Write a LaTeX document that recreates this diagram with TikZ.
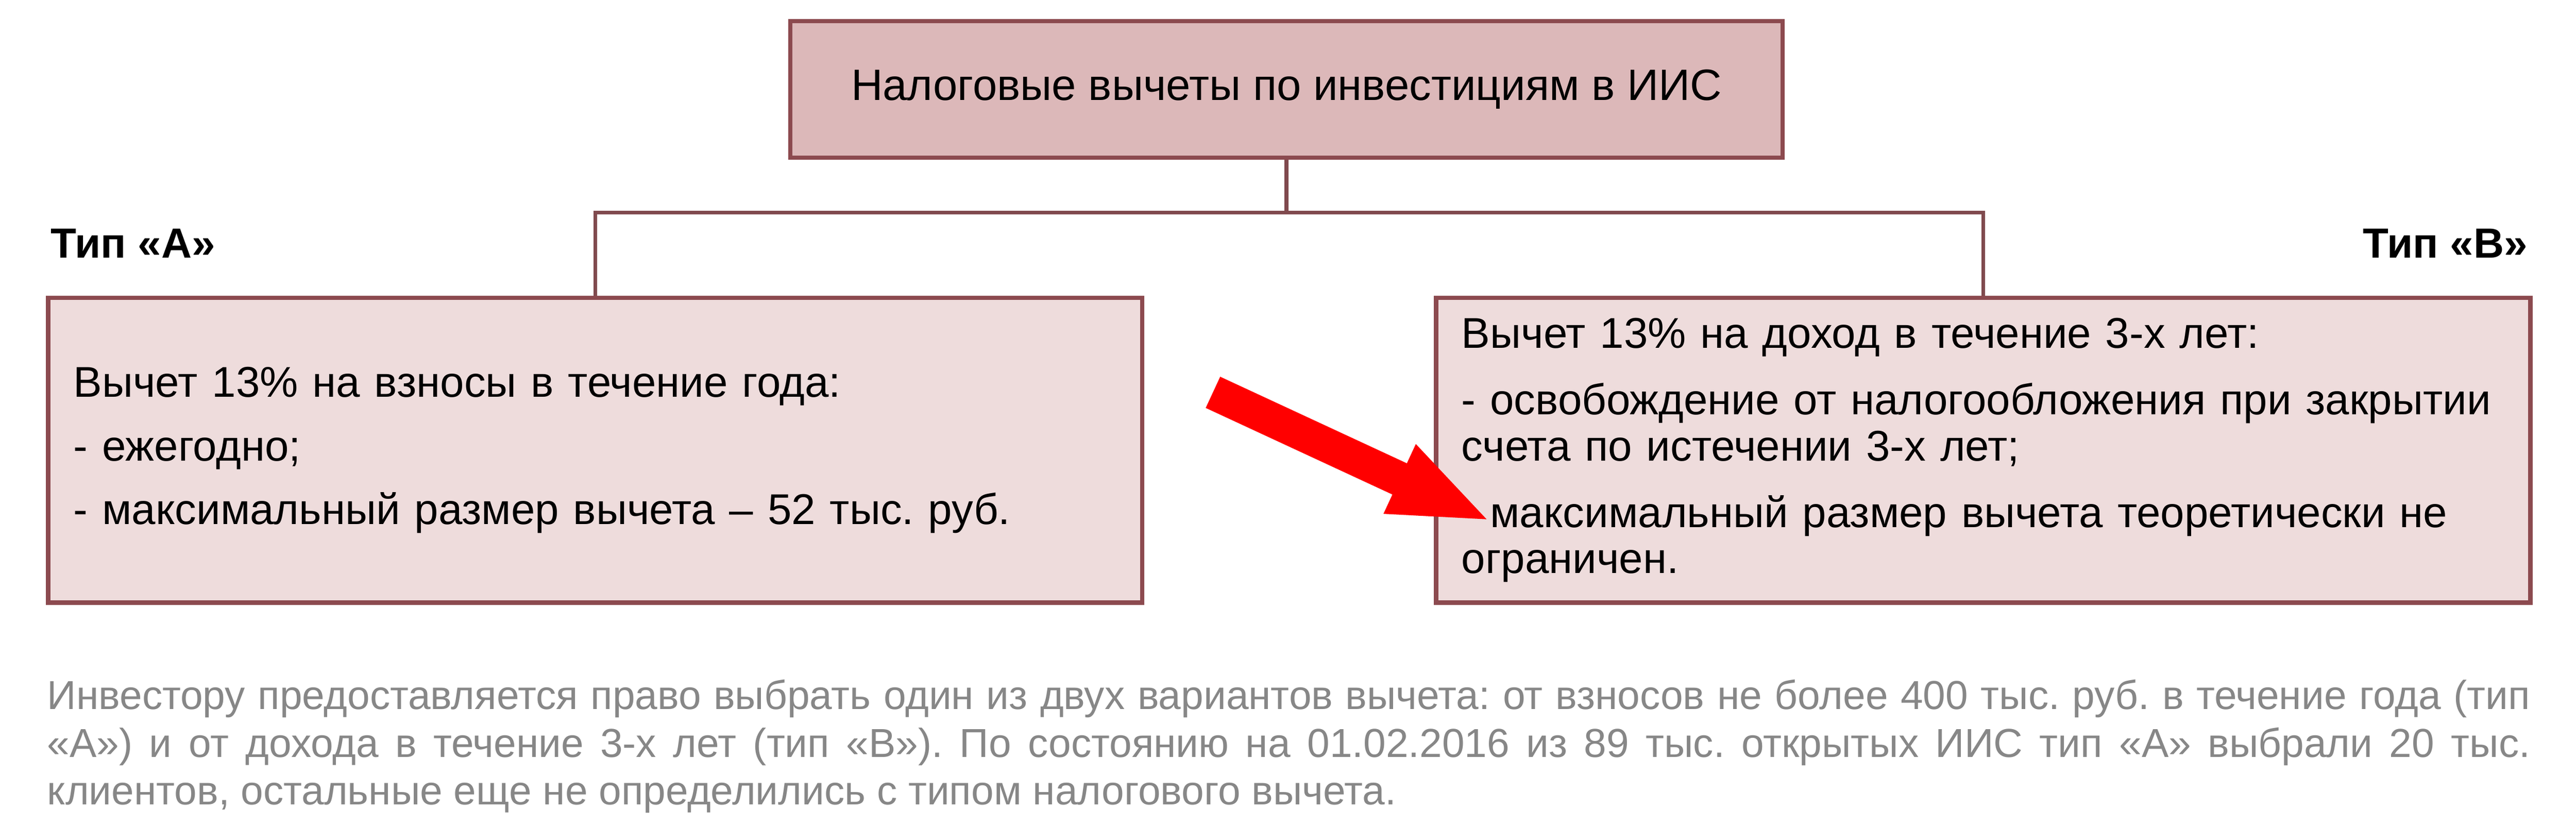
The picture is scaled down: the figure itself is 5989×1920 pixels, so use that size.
\documentclass[tikz,border=0pt]{standalone}
\usepackage{fontspec}
\setmainfont{Liberation Sans}
\usetikzlibrary{arrows.meta}
\definecolor{rim}{HTML}{8C4A4F}
\definecolor{wire}{HTML}{804A4E}
\definecolor{headfill}{HTML}{DCB8B9}
\definecolor{cardfill}{HTML}{EEDCDC}
\definecolor{notegray}{HTML}{878787}
\definecolor{pointred}{HTML}{FF0000}
\hyphenpenalty=10000
\exhyphenpenalty=10000
\frenchspacing

\begin{document}
\begin{tikzpicture}[x=0.1pt,y=-0.1pt,
	headbox/.style={draw=rim,line width=1pt,fill=headfill,minimum width=230.7pt,minimum height=31.7pt,inner sep=0pt,font=\fontsize{10.2}{12.2}\selectfont},
	card/.style={draw=rim,line width=1pt,fill=cardfill,minimum width=254.4pt,minimum height=70.9pt,inner xsep=5.9pt,inner ysep=0pt,text width=242.6pt,align=left,anchor=north west,font=\fontsize{10}{10.7}\selectfont},
	typelabel/.style={inner sep=0pt,font=\bfseries\fontsize{9.8}{11.8}\selectfont},
	link/.style={draw=wire,line width=0.9pt},
	pointer/.style={draw=pointred,line width=8pt,-{Triangle[length=23.7pt,width=15.8pt]}},
	note/.style={inner sep=0pt,anchor=north west,text width=577.3pt,align=justify,text=notegray,font=\fontsize{9.4}{11.1}\selectfont}]
		\useasboundingbox(0,0)rectangle(5989,1920);
		% boxes
		\node[headbox](deductions)at(2991,208){Налоговые вычеты по инвестициям в ИИС};
		\node[card](typeA)at(107,687){Вычет 13\% на взносы в течение года:\\[4.1pt]
			- ежегодно;\\[4.1pt]
			- максимальный размер вычета – 52 тыс. руб.};
		\node[card](typeB)at(3334,687){Вычет 13\% на доход в течение 3-х лет:\\[4.8pt]
			- освобождение от налогообложения при закрытии\\
			счета по истечении 3-х лет;\\[4.8pt]
			- максимальный размер вычета теоретически не\\
			ограничен.};
		\node[typelabel,anchor=base west](labelA)at(116,600){Тип «А»};
		\node[typelabel,anchor=base east](labelB)at(5878,600){Тип «В»};
		% connectors
		\coordinate(bus)at(2991,494);
		\draw[link](deductions.south)--(bus);
		\draw[link](typeA.north)|-(bus)-|(typeB.north);
		% red arrow
		\coordinate(tail)at(2820,912);
		\coordinate(tip)at(3469,1213);
		\draw[pointer](tail)--(tip);
		% note below
		\node[note](remark)at(108,1578){Инвестору предоставляется право выбрать один из двух вариантов вычета: от взносов не более 400 тыс. руб. в течение года (тип\linebreak «А») и от дохода в течение 3-х лет (тип «В»). По состоянию на 01.02.2016 из 89 тыс. открытых ИИС тип «А» выбрали 20 тыс.\linebreak клиентов, остальные еще не определились с типом налогового вычета.};
	\end{tikzpicture}
\end{document}
